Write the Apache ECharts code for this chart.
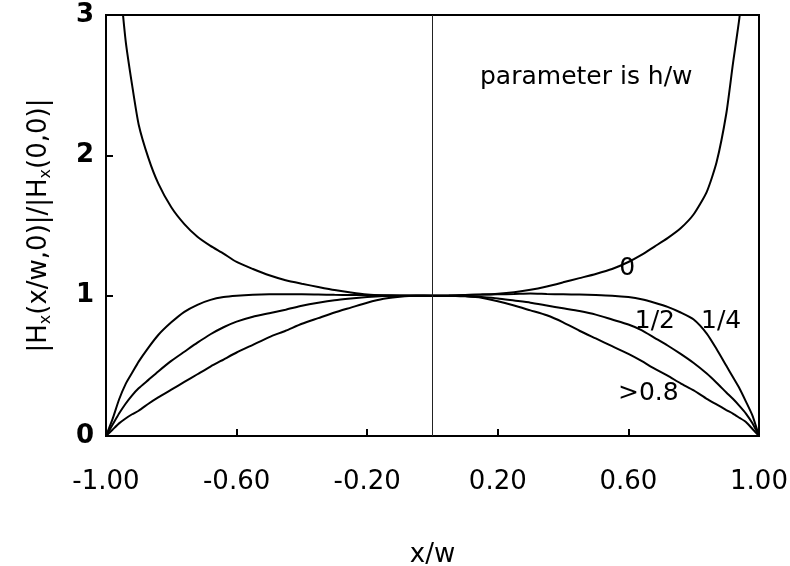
<!DOCTYPE html>
<html>
<head>
<meta charset="utf-8">
<script src="https://cdn.jsdelivr.net/npm/echarts@6/dist/echarts.min.js"></script>
<style>
  html, body { margin: 0; padding: 0; background: #fff; }
  #chart { width: 790px; height: 566px; }
</style>
</head>
<body>
<div id="chart"></div>
<script>
// x/w positions, shared by all curves
var xs = [-1.00, -0.98, -0.96, -0.94, -0.92, -0.90, -0.87, -0.84, -0.80, -0.76, -0.72, -0.68, -0.64, -0.60,
  -0.55, -0.50, -0.45, -0.40, -0.35, -0.30, -0.25, -0.20, -0.15, -0.10, -0.05, 0.00,
  0.05, 0.10, 0.15, 0.20, 0.25, 0.30, 0.35, 0.40, 0.45, 0.50, 0.55, 0.60,
  0.64, 0.68, 0.72, 0.76, 0.80, 0.84, 0.87, 0.90, 0.92, 0.94, 0.96, 0.98, 1.00];

// h/w = 0
var curve0 = [null, null, 3.30, 2.82, 2.50, 2.22, 1.98, 1.80, 1.63, 1.51, 1.42, 1.355, 1.30, 1.24,
  1.19, 1.145, 1.11, 1.085, 1.062, 1.04, 1.022, 1.008, 1.002, 1.0, 1.0, 1.0,
  1.0, 1.004, 1.008, 1.014, 1.025, 1.042, 1.066, 1.095, 1.125, 1.155, 1.19, 1.24,
  1.29, 1.35, 1.41, 1.48, 1.58, 1.74, 1.95, 2.30, 2.65, 2.98, 3.40, null, null];
// h/w = 1/4
var curveQuarter = [0, 0.12, 0.26, 0.37, 0.45, 0.53, 0.63, 0.72, 0.81, 0.885, 0.935, 0.97, 0.99, 1.0,
  1.007, 1.01, 1.01, 1.01, 1.008, 1.006, 1.005, 1.004, 1.003, 1.002, 1.001, 1.0,
  1.002, 1.005, 1.008, 1.01, 1.012, 1.015, 1.012, 1.01, 1.008, 1.005, 1.0, 0.99,
  0.975, 0.95, 0.92, 0.88, 0.83, 0.73, 0.62, 0.50, 0.42, 0.34, 0.245, 0.145, 0];
// h/w = 1/2
var curveHalf = [0, 0.08, 0.16, 0.23, 0.29, 0.34, 0.40, 0.46, 0.535, 0.60, 0.665, 0.725, 0.775, 0.815,
  0.85, 0.875, 0.90, 0.928, 0.95, 0.968, 0.98, 0.99, 0.997, 1.0, 1.0, 1.0,
  1.0, 0.998, 0.99, 0.98, 0.965, 0.95, 0.93, 0.91, 0.89, 0.865, 0.83, 0.795,
  0.755, 0.70, 0.645, 0.585, 0.52, 0.445, 0.38, 0.31, 0.265, 0.215, 0.16, 0.09, 0];
// h/w > 0.8
var curveThick = [0, 0.045, 0.09, 0.125, 0.155, 0.18, 0.23, 0.275, 0.33, 0.385, 0.44, 0.495, 0.545, 0.595,
  0.65, 0.705, 0.75, 0.80, 0.84, 0.88, 0.915, 0.95, 0.978, 0.993, 1.0, 1.0,
  1.0, 0.995, 0.985, 0.96, 0.93, 0.895, 0.86, 0.81, 0.75, 0.695, 0.64, 0.585,
  0.535, 0.48, 0.43, 0.375, 0.325, 0.265, 0.225, 0.185, 0.16, 0.13, 0.10, 0.05, 0];

// axis ticks / labels
var xLabelValues = [-1.00, -0.60, -0.20, 0.20, 0.60, 1.00];
var xTickValues = [-0.60, -0.20, 0.20, 0.60];
var yTicks = [0, 1, 2, 3];

// text notes inside the plot (data coords)
var noteText = ['parameter is h/w', '0', '1/2', '1/4', '>0.8'];
var noteX = [0.471, 0.596, 0.681, 0.884, 0.661];
var noteY = [2.557, 1.197, 0.8125, 0.8125, 0.306];

var FONT = 'DejaVu Sans';

function pairs(ys) {
  var out = [];
  for (var i = 0; i < xs.length; i++) {
    out.push([xs[i], ys[i]]);
  }
  return out;
}

function curveSeries(name, ys) {
  return {
    name: name,
    type: 'line',
    data: pairs(ys),
    symbol: 'none',
    smooth: 0.2,
    clip: true,
    connectNulls: false,
    lineStyle: { color: '#000', width: 2 },
    silent: true,
    z: 3
  };
}

var notes = [];
for (var i = 0; i < noteText.length; i++) {
  notes.push([noteX[i], noteY[i], noteText[i]]);
}

var chart = echarts.init(document.getElementById('chart'), null, { renderer: 'canvas' });

var option = {
  backgroundColor: '#fff',
  animation: false,
  grid: {
    left: 106,
    right: 31,
    top: 15,
    bottom: 130,
    outerBoundsMode: 'none',
    containLabel: false,
    show: true,
    borderColor: '#000',
    borderWidth: 2
  },
  xAxis: {
    type: 'value',
    min: -1,
    max: 1,
    name: 'x/w',
    nameLocation: 'middle',
    nameGap: 106,
    nameTextStyle: { fontFamily: FONT, fontSize: 26, color: '#000' },
    axisLine: { onZero: false, lineStyle: { color: '#000', width: 2 } },
    axisTick: {
      inside: true,
      length: 7,
      customValues: xTickValues,
      lineStyle: { color: '#000', width: 2 }
    },
    axisLabel: {
      customValues: xLabelValues,
      margin: 33,
      fontFamily: FONT,
      fontSize: 26,
      color: '#000',
      formatter: function (v) { return v.toFixed(2); }
    },
    splitLine: { show: false }
  },
  yAxis: {
    type: 'value',
    min: yTicks[0],
    max: yTicks[yTicks.length - 1],
    interval: 1,
    name: '|H{s|x}(x/w,0)|/|H{s|x}(0,0)|',
    nameLocation: 'middle',
    nameGap: 52,
    nameTextStyle: {
      fontFamily: FONT,
      fontSize: 26,
      color: '#000',
      lineHeight: 30,
      rich: {
        s: { fontFamily: FONT, fontSize: 16, color: '#000', verticalAlign: 'bottom', lineHeight: 16 }
      }
    },
    axisLine: { onZero: false, lineStyle: { color: '#000', width: 2 } },
    axisTick: { inside: true, length: 7, lineStyle: { color: '#000', width: 2 } },
    axisLabel: {
      margin: 12,
      fontFamily: FONT,
      fontSize: 26,
      fontWeight: 'bold',
      color: '#000'
    },
    splitLine: { show: false }
  },
  series: [
    curveSeries('0', curve0),
    curveSeries('1/4', curveQuarter),
    curveSeries('1/2', curveHalf),
    curveSeries('>0.8', curveThick),
    {
      // centre line at x/w = 0
      type: 'line',
      data: [],
      silent: true,
      markLine: {
        silent: true,
        symbol: 'none',
        label: { show: false },
        lineStyle: { color: '#222', width: 1, type: 'solid' },
        data: [{ xAxis: 0 }]
      }
    },
    {
      name: 'notes',
      type: 'scatter',
      data: notes,
      symbolSize: 0,
      silent: true,
      itemStyle: { opacity: 1 },
      label: {
        show: true,
        position: 'inside',
        fontFamily: FONT,
        fontSize: 25,
        color: '#000',
        opacity: 1,
        textBorderWidth: 0,
        textBorderColor: 'transparent',
        formatter: function (p) { return p.data[2]; }
      }
    }
  ]
};

chart.setOption(option);
</script>
</body>
</html>
